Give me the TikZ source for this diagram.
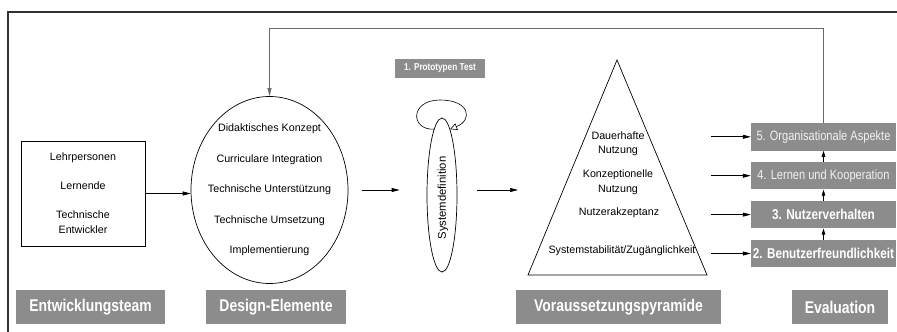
\documentclass[tikz,border=0pt]{standalone}
\usepackage{fontspec}
\setmainfont{Liberation Sans}
\newfontfamily\narrowfont[FakeStretch=0.82]{Liberation Sans}
\usepackage{tikz}
\usetikzlibrary{arrows.meta, positioning, shapes.geometric}

\definecolor{boxgray}{RGB}{140,140,140}
\definecolor{framegray}{RGB}{50,50,50}
\definecolor{fbgray}{RGB}{105,105,105}

\begin{document}
\begin{tikzpicture}[
    x=1pt, y=-1pt,
    node distance=11pt,
    txt/.style={font=\fontsize{10.7}{13}\selectfont, align=center, inner sep=0pt},
    graybox/.style={fill=boxgray, text=white, inner sep=0pt, align=center},
    evalbox/.style={graybox, minimum width=145pt, minimum height=27.5pt, font=\narrowfont\bfseries\fontsize{14.3}{16}\selectfont},
    evallight/.style={evalbox, text=white!88!boxgray, font=\narrowfont\fontsize{13.5}{16}\selectfont},
    titlebox/.style={graybox, minimum height=34pt, font=\narrowfont\bfseries\fontsize{17}{19}\selectfont},
    outline/.style={draw, line width=0.7pt},
    arrow/.style={-{Triangle[length=8pt, width=4pt]}, line width=0.7pt},
    uparrow/.style={-{Triangle[length=6pt, width=3.5pt]}, line width=0.7pt},
    looparrow/.style={-{Triangle[open, length=7pt, width=7pt]}, line width=0.6pt}
]
    \useasboundingbox (0,0) rectangle (897,332);
    \draw[line width=1.2pt, framegray] (8,332) -- (8,12) -- (897,12);

    % Entwicklungsteam
    \node[outline, txt, font=\fontsize{10.7}{15}\selectfont, minimum width=124pt, minimum height=105pt] (team) at (83,193.5)
        {Lehrpersonen\\[14pt]Lernende\\[14pt]Technische\\Entwickler};

    % Design-Elemente
    \node[outline, ellipse, inner sep=0pt, minimum width=157pt, minimum height=187pt] (design) at (269.5,190) {};
    \node[txt, font=\fontsize{10.7}{30.5}\selectfont] (designtext) at (269.5,190)
        {Didaktisches Konzept\\Curriculare Integration\\Technische Unterstützung\\Technische Umsetzung\\Implementierung};

    % Systemdefinition und Prototypen Test
    \node[outline, ellipse, inner sep=0pt, minimum width=30pt, minimum height=154pt] (sysdef) at (442,195) {};
    \node[txt, rotate=90, font=\fontsize{11.3}{13}\selectfont] (sysdeftext) at (443,198) {Systemdefinition};
    \node[graybox, minimum width=90pt, minimum height=19pt, font=\narrowfont\bfseries\fontsize{10}{12}\selectfont] (proto) at (440,68.5) {1. Prototypen Test};
    \coordinate (looptop) at (440,100);
    \draw[looparrow] (sysdef.97) .. controls (410,130) and (410,100) .. (looptop)
        .. controls (470,100) and (473,120) .. (sysdef.83);

    % Voraussetzungspyramide
    \coordinate (apex) at (617,60);
    \coordinate (pyrL) at (528,275);
    \coordinate (pyrR) at (707,275);
    \draw[line width=0.7pt] (pyrL) -- (apex) -- (pyrR) -- cycle;
    \node[txt, font=\fontsize{10.7}{14.5}\selectfont] (dauer) at (618,143.5) {Dauerhafte\\Nutzung};
    \node[txt, font=\fontsize{10.7}{14.5}\selectfont] (konz) at (618,182) {Konzeptionelle\\Nutzung};
    \node[txt] (akzept) at (619,213) {Nutzerakzeptanz};
    \node[txt] (stab) at (622,251) {Systemstabilität/Zugänglichkeit};

    % Evaluation
    \node[evalbox] (eval2) at (823.5,253.5) {2. Benutzerfreundlichkeit};
    \node[evalbox, above=of eval2] (eval3) {3. Nutzerverhalten};
    \node[evallight, above=of eval3] (eval4) {4. Lernen und Kooperation};
    \node[evallight, above=of eval4] (eval5) {5. Organisationale Aspekte};

    % Titel
    \node[titlebox, minimum width=149pt] (teamtitle) at (90.5,307) {Entwicklungsteam};
    \node[titlebox, minimum width=140pt] (designtitle) at (276,307) {Design-Elemente};
    \node[titlebox, minimum width=205pt] (pyrtitle) at (618.5,307) {Voraussetzungspyramide};
    \node[titlebox, minimum width=96pt] (evaltitle) at (840,307) {Evaluation};

    % Pfeile
    \draw[arrow] (team.east) -- (team.east -| design.west);
    \draw[arrow, shorten <=14pt, shorten >=27pt] (design.east) -- (design.east -| sysdef.west);
    \draw[arrow, shorten <=20pt, shorten >=10pt] (sysdef.east |- design.east) -- (pyrL |- design.east);
    \foreach \e in {eval2, eval3, eval4, eval5}
        \draw[arrow, shorten <=4pt] (pyrR |- \e.west) -- (\e.west);
    \foreach \a/\b in {eval2/eval3, eval3/eval4, eval4/eval5}
        \draw[uparrow] (\a) -- (\b);
    \coordinate (fbtop) at (0,28);
    \draw[arrow, fbgray] (eval5.north) -- (eval5.north |- fbtop) -| (design.north);
\end{tikzpicture}
\end{document}
